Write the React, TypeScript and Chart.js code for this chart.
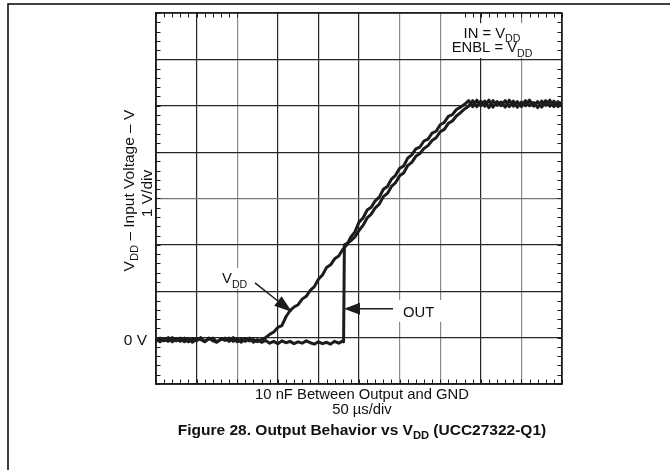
import { useEffect, useRef } from "react";
import { Chart, registerables } from "chart.js";

Chart.register(...registerables);

// ---- data (time in µs, 50 µs/div; voltage in V, 1 V/div) ----
const timeUs = [
  0, 5, 10, 15, 20, 25, 30, 35, 40, 45, 50, 55, 60, 65, 70, 75, 80, 85, 90, 95,
  100, 105, 110, 115, 120, 125, 130, 135, 140, 145, 150, 155, 160, 165, 170, 175,
  180, 185, 190, 195, 200, 205, 210, 215, 220, 225, 230, 235, 240, 245, 250, 255,
  260, 265, 270, 275, 280, 285, 290, 295, 300, 305, 310, 315, 320, 325, 330, 335,
  340, 345, 350, 355, 360, 365, 370, 375, 380, 385, 390, 395, 400, 405, 410, 415,
  420, 425, 430, 435, 440, 445, 450, 455, 460, 465, 470, 475, 480, 485, 490, 495, 500,
];

const vddVolts = [
  0.03, -0.04, 0.02, -0.03, 0.05, -0.02, 0.04, -0.04, 0.02, -0.05, 0.03, 0.01, -0.04,
  0.04, -0.02, -0.05, 0.03, -0.01, 0.04, -0.03, 0.02, -0.05, 0.03, -0.02, 0.01, -0.04,
  0.01, 0.05, 0.12, 0.17, 0.27, 0.31, 0.5, 0.63, 0.71, 0.76,
  0.88, 0.94, 1.07, 1.15, 1.31, 1.4, 1.56, 1.62, 1.75, 1.81,
  1.95, 2.05, 2.22, 2.33, 2.54, 2.63, 2.8, 2.86, 3.0, 3.08,
  3.25, 3.31, 3.47, 3.55, 3.7, 3.75, 3.92, 3.99, 4.12, 4.16,
  4.29, 4.33, 4.46, 4.5, 4.64, 4.69, 4.82, 4.86, 4.97, 5.02, 5.08,
  5.16, 5.03, 5.17, 5.05, 5.15, 5.01, 5.16, 5.06, 5.13, 5.02, 5.17, 5.04,
  5.14, 5.03, 5.16, 5.05, 5.12, 5.01, 5.15, 5.06, 5.17, 5.03, 5.14, 5.05,
];

const outTimeUs = [
  0, 5, 10, 15, 20, 25, 30, 35, 40, 45, 50, 55, 60, 65, 70, 75, 80, 85, 90, 95,
  100, 105, 110, 115, 120, 125, 130, 135, 140, 145, 150, 155, 160, 165, 170, 175,
  180, 185, 190, 195, 200, 205, 210, 215, 220, 225, 230, 231, 232, 235, 240, 245,
  250, 255, 260, 265, 270, 275, 280, 285, 290, 295, 300, 305, 310, 315, 320, 325,
  330, 335, 340, 345, 350, 355, 360, 365, 370, 375, 380, 385, 390, 395, 400, 405,
  410, 415, 420, 425, 430, 435, 440, 445, 450, 455, 460, 465, 470, 475, 480, 485,
  490, 495, 500,
];

const outVolts = [
  -0.03, 0.04, -0.02, 0.05, -0.04, 0.02, -0.03, 0.04, -0.04, 0.03, -0.02, 0.05, -0.03,
  0.02, 0.04, -0.04, 0.01, 0.04, -0.03, 0.05, -0.04, 0.02, -0.03, 0.04, -0.05, 0.01,
  -0.05, -0.01, -0.07, -0.03, -0.08, -0.02, -0.06, -0.03, -0.08, -0.04, -0.07,
  -0.02, -0.06, -0.09, -0.04, -0.08, -0.05, -0.09, -0.03, -0.07, -0.02,
  -0.04, 2.05,
  2.08, 2.14, 2.22, 2.36, 2.47, 2.63, 2.71, 2.85, 2.93, 3.09,
  3.16, 3.31, 3.39, 3.54, 3.6, 3.76, 3.83, 3.96, 4.02, 4.13,
  4.19, 4.3, 4.36, 4.49, 4.54, 4.67, 4.72, 4.83, 4.9, 4.98, 5.04,
  5.16, 5.03, 5.15, 5.04, 5.17, 5.02, 5.14, 5.05, 5.16, 5.03, 5.15, 5.02,
  5.13, 5.05, 5.17, 5.04, 5.14, 5.02, 5.16, 5.04, 5.15, 5.03, 5.13,
];

// scope graticule: 10 x 8 divisions, 0 V sits just under a division line
const xMin = 0;
const xMax = 500;
const xStep = 50;
const yDivisionTicks = [-0.95, 0.05, 1.05, 2.05, 3.05, 4.05, 5.05, 6.05, 7.05];
const topTickRanges = [
  [0, 100],
  [380, 500],
];

// text
const xTitleLines = ["10 nF Between Output and GND", "50 µs/div"];
const yTitleMain = [{ t: "V" }, { t: "DD", sub: true }, { t: " – Input Voltage – V" }];
const yTitleSub = "1 V/div";
const zeroLabel = "0 V";
const titleParts = [
  { t: "Figure 28. Output Behavior vs V" },
  { t: "DD", sub: true },
  { t: " (UCC27322-Q1)" },
];
const condLine1 = [{ t: "IN = V" }, { t: "DD", sub: true }];
const condLine2 = [{ t: "ENBL = V" }, { t: "DD", sub: true }];
const vddLabel = [{ t: "V" }, { t: "DD", sub: true }];
const outLabel = "OUT";

// annotation anchors in data units (µs, V)
const condAnchor = { t: 413.8, v1: 6.52, v2: 6.2 };
const condBox = { t0: 357, t1: 488, v0: 6.08, v1: 6.83 };
const outBox = { t0: 295.6, t1: 356, v0: 0.39, v1: 0.86 };
const outText = { t: 304.2, v: 0.5 };
const outArrow = { t0: 291.9, v0: 0.67, t1: 231.5, v1: 0.67 };
const vddBox = { t0: 77.6, t1: 118.2, v0: 1.1, v1: 1.55 };
const vddText = { t: 81.3, v: 1.22 };
const vddArrow = { t0: 121.9, v0: 1.23, t1: 167.5, v1: 0.6 };

const FONT = '"Liberation Sans", Arial, Helvetica, sans-serif';
const FS = 14.8;
const FS_Y = 15.5;
const INK = "#1c1c1c";

type Part = { t: string; sub?: boolean };

function partsWidth(ctx: CanvasRenderingContext2D, parts: Part[], fs: number, bold: boolean) {
  let w = 0;
  for (const p of parts) {
    const s = p.sub ? fs * 0.72 : fs;
    ctx.font = `${bold ? "bold " : ""}${s}px ${FONT}`;
    w += ctx.measureText(p.t).width;
  }
  return w;
}

function drawParts(
  ctx: CanvasRenderingContext2D,
  parts: Part[],
  x: number,
  y: number,
  fs: number,
  bold: boolean,
  align: "left" | "center"
) {
  const total = partsWidth(ctx, parts, fs, bold);
  let cx = align === "center" ? x - total / 2 : x;
  ctx.textAlign = "left";
  ctx.textBaseline = "alphabetic";
  for (const p of parts) {
    const s = p.sub ? fs * 0.72 : fs;
    ctx.font = `${bold ? "bold " : ""}${s}px ${FONT}`;
    ctx.fillText(p.t, cx, p.sub ? y + fs * 0.28 : y);
    cx += ctx.measureText(p.t).width;
  }
}

function arrow(ctx: CanvasRenderingContext2D, x0: number, y0: number, x1: number, y1: number, len: number, half: number) {
  const dx = x1 - x0;
  const dy = y1 - y0;
  const d = Math.hypot(dx, dy);
  const ux = dx / d;
  const uy = dy / d;
  const bx = x1 - ux * len;
  const by = y1 - uy * len;
  ctx.beginPath();
  ctx.moveTo(x0, y0);
  ctx.lineTo(bx, by);
  ctx.lineWidth = 1.5;
  ctx.strokeStyle = INK;
  ctx.stroke();
  ctx.beginPath();
  ctx.moveTo(x1, y1);
  ctx.lineTo(bx - uy * half, by + ux * half);
  ctx.lineTo(bx + uy * half, by - ux * half);
  ctx.closePath();
  ctx.fillStyle = INK;
  ctx.fill();
}

const decor = {
  id: "decor",
  beforeDatasetsDraw(chart: any) {
    const { ctx, chartArea: a, scales } = chart;
    const x = scales.x;
    const y = scales.y;
    ctx.save();
    // white label backgrounds over the graticule
    ctx.fillStyle = "#ffffff";
    for (const b of [condBox, outBox, vddBox]) {
      const x1 = x.getPixelForValue(b.t0);
      const x2 = x.getPixelForValue(b.t1);
      const y1 = y.getPixelForValue(b.v1);
      const y2 = y.getPixelForValue(b.v0);
      ctx.fillRect(x1, y1, x2 - x1, y2 - y1);
    }
    // minor ticks (5 per division)
    ctx.strokeStyle = INK;
    ctx.lineWidth = 1;
    const L = 4.5;
    ctx.beginPath();
    for (let v = yDivisionTicks[0]; v <= yDivisionTicks[yDivisionTicks.length - 1] + 1e-6; v += 0.2) {
      const py = Math.round(y.getPixelForValue(v)) + 0.5;
      ctx.moveTo(a.left, py);
      ctx.lineTo(a.left + L, py);
      ctx.moveTo(a.right - L, py);
      ctx.lineTo(a.right, py);
    }
    for (let t = xMin; t <= xMax + 1e-6; t += xStep / 5) {
      const px = Math.round(x.getPixelForValue(t)) + 0.5;
      ctx.moveTo(px, a.bottom);
      ctx.lineTo(px, a.bottom - L);
      const onTop = topTickRanges.some(([r0, r1]) => t >= r0 - 1e-6 && t <= r1 + 1e-6);
      if (onTop) {
        ctx.moveTo(px, a.top);
        ctx.lineTo(px, a.top + L);
      }
    }
    ctx.stroke();
    // plot frame
    ctx.lineWidth = 1.5;
    ctx.strokeRect(a.left, a.top, a.right - a.left, a.bottom - a.top);
    ctx.restore();
  },
  afterDraw(chart: any) {
    const { ctx, chartArea: a, scales } = chart;
    const x = scales.x;
    const y = scales.y;
    ctx.save();
    // page frame (top and left rules)
    ctx.strokeStyle = "#000";
    ctx.lineWidth = 1.5;
    ctx.beginPath();
    ctx.moveTo(8, chart.height);
    ctx.lineTo(8, 4);
    ctx.lineTo(chart.width, 4);
    ctx.stroke();

    ctx.fillStyle = "#111";
    const cx = (a.left + a.right) / 2;
    // x-axis title lines
    ctx.font = `${FS}px ${FONT}`;
    ctx.textAlign = "center";
    ctx.textBaseline = "alphabetic";
    ctx.fillText(xTitleLines[0], cx + 3, a.bottom + 14.5);
    ctx.fillText(xTitleLines[1], cx + 3, a.bottom + 30);
    // figure title
    drawParts(ctx, titleParts, cx + 3, a.bottom + 51, 15.5, true, "center");

    // y-axis title (rotated)
    ctx.save();
    ctx.translate(a.left - 22, (a.top + a.bottom) / 2 - 8);
    ctx.rotate(-Math.PI / 2);
    drawParts(ctx, yTitleMain, 0, 0, FS_Y, false, "center");
    ctx.restore();
    ctx.save();
    ctx.translate(a.left - 4, (a.top + a.bottom) / 2 - 5);
    ctx.rotate(-Math.PI / 2);
    ctx.font = `${FS_Y}px ${FONT}`;
    ctx.textAlign = "center";
    ctx.fillText(yTitleSub, 0, 0);
    ctx.restore();

    // 0 V marker
    ctx.font = `${FS_Y}px ${FONT}`;
    ctx.textAlign = "right";
    ctx.fillText(zeroLabel, a.left - 9, y.getPixelForValue(0) + 5.5);

    // conditions
    ctx.fillStyle = "#111";
    drawParts(ctx, condLine1, x.getPixelForValue(condAnchor.t), y.getPixelForValue(condAnchor.v1), FS, false, "center");
    drawParts(ctx, condLine2, x.getPixelForValue(condAnchor.t), y.getPixelForValue(condAnchor.v2), FS, false, "center");

    // OUT label + arrow
    ctx.font = `${FS}px ${FONT}`;
    ctx.textAlign = "left";
    ctx.fillText(outLabel, x.getPixelForValue(outText.t), y.getPixelForValue(outText.v));
    arrow(
      ctx,
      x.getPixelForValue(outArrow.t0),
      y.getPixelForValue(outArrow.v0),
      x.getPixelForValue(outArrow.t1),
      y.getPixelForValue(outArrow.v1),
      16,
      6
    );

    // VDD label + arrow
    ctx.fillStyle = "#111";
    drawParts(ctx, vddLabel, x.getPixelForValue(vddText.t), y.getPixelForValue(vddText.v), FS, false, "left");
    arrow(
      ctx,
      x.getPixelForValue(vddArrow.t0),
      y.getPixelForValue(vddArrow.v0),
      x.getPixelForValue(vddArrow.t1),
      y.getPixelForValue(vddArrow.v1),
      18,
      6
    );
    ctx.restore();
  },
};

const greyX = [2, 6, 7, 9];
const greyY = [4];

export default function App() {
  const ref = useRef<HTMLCanvasElement>(null);
  useEffect(() => {
    if (!ref.current) return;
    const traceStyle = {
      borderColor: INK,
      borderWidth: 3,
      pointRadius: 0,
      tension: 0,
      fill: false,
      borderJoinStyle: "round" as const,
      borderCapStyle: "round" as const,
    };
    const chart = new Chart(ref.current, {
      type: "line",
      data: {
        datasets: [
          { label: "VDD", data: timeUs.map((t, i) => ({ x: t, y: vddVolts[i] })), ...traceStyle },
          { label: "OUT", data: outTimeUs.map((t, i) => ({ x: t, y: outVolts[i] })), ...traceStyle },
        ],
      },
      options: {
        responsive: false,
        animation: false,
        devicePixelRatio: 1,
        layout: { padding: { left: 156, top: 13, right: 108, bottom: 86 } },
        plugins: {
          legend: { display: false },
          tooltip: { enabled: false },
          title: { display: false },
        },
        scales: {
          x: {
            type: "linear",
            min: xMin,
            max: xMax,
            ticks: { display: false, stepSize: xStep },
            grid: {
              drawTicks: false,
              lineWidth: 1.2,
              color: (c: any) => (greyX.includes(c.index) ? "#8a8a8a" : "#262626"),
            },
            border: { display: true, color: INK, width: 1.5 },
          },
          y: {
            type: "linear",
            min: yDivisionTicks[0],
            max: yDivisionTicks[yDivisionTicks.length - 1],
            afterBuildTicks: (axis: any) => {
              axis.ticks = yDivisionTicks.map((v) => ({ value: v }));
            },
            ticks: { display: false },
            grid: {
              drawTicks: false,
              lineWidth: 1.2,
              color: (c: any) => (greyY.includes(c.index) ? "#777777" : "#262626"),
            },
            border: { display: true, color: INK, width: 1.5 },
          },
        },
      },
      plugins: [decor],
    });
    return () => chart.destroy();
  }, []);
  return (
    <div style={{ position: "absolute", left: 0, top: 0, width: 670, height: 470, background: "#fff" }}>
      <canvas ref={ref} width={670} height={470} style={{ display: "block" }} />
    </div>
  );
}
